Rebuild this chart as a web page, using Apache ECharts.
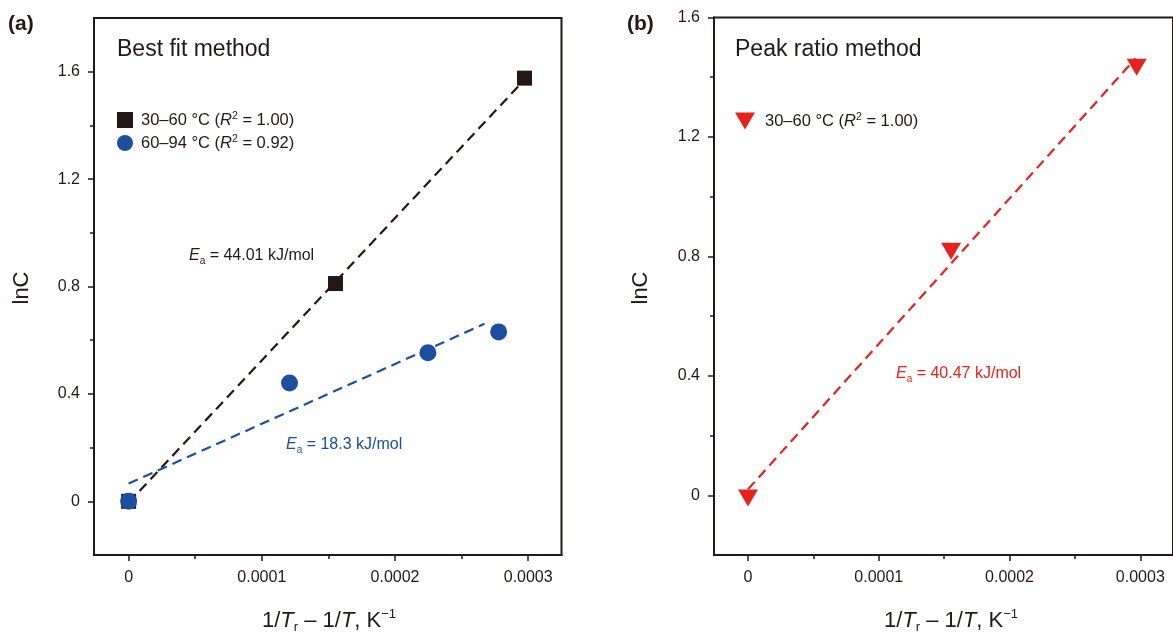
<!DOCTYPE html>
<html>
<head>
<meta charset="utf-8">
<script src="https://cdn.jsdelivr.net/npm/echarts@6/dist/echarts.min.js"></script>
<style>
html,body{margin:0;padding:0;background:#fff;}
#chart{width:1173px;height:633px;}
</style>
</head>
<body>
<div id="chart"></div>
<script>
// ---- tick values ----
const xTicks = [0, 0.0001, 0.0002, 0.0003];
const xMinorTicks = [0.00005, 0.00015, 0.00025];
const yTicks = [0, 0.4, 0.8, 1.2, 1.6];
const yMinorTicks = [0.2, 0.6, 1.0, 1.4];

// ---- (a) Best fit method ----
const xBest30to60 = [0, 0.0001553, 0.0002972];
const lnCBest30to60 = [0, 0.811, 1.576];
const xBest60to94 = [0, 0.0001208, 0.0002247, 0.0002778];
const lnCBest60to94 = [0, 0.441, 0.553, 0.631];
const fitBest30to60X = [0, 0.0002972];
const fitBest30to60Y = [-0.005, 1.570];
const fitBest60to94X = [0, 0.0002672];
const fitBest60to94Y = [0.066, 0.661];

// ---- (b) Peak ratio method ----
const xPeak30to60 = [0, 0.0001553, 0.0002972];
const lnCPeak30to60 = [0, 0.827, 1.443];
const fitPeak30to60X = [0, 0.0002964];
const fitPeak30to60Y = [0.02, 1.463];

const zip = (xs, ys) => xs.map((x, i) => [x, ys[i]]);

const INK = '#231815';
const BLUE = '#1c4fa0';
const RED = '#e5221e';
const FONT = '"Liberation Sans", Arial, Helvetica, sans-serif';
const triPath = 'path://M0,0 L20,0 L10,17 Z';

const xFmt = v => (v === 0 ? '0' : v.toFixed(4));
const yFmt = v => (v === 0 ? '0' : v.toFixed(1));

function mainX(grid) {
  return {
    gridIndex: grid, type: 'value', position: 'bottom', min: -0.000026, max: 0.000325,
    axisLine: { show: true, onZero: false, lineStyle: { color: INK, width: 2 } },
    axisTick: { show: true, customValues: xTicks, length: 6, lineStyle: { color: INK, width: 1.5 } },
    axisLabel: { customValues: xTicks, formatter: xFmt, fontSize: 16, color: INK, fontFamily: FONT, margin: 15 },
    splitLine: { show: false }
  };
}
function minorX(grid) {
  return {
    gridIndex: grid, type: 'value', position: 'bottom', min: -0.000026, max: 0.000325,
    axisLine: { show: false, onZero: false, lineStyle: { color: INK } },
    axisTick: { show: true, customValues: xMinorTicks, length: 4, lineStyle: { color: INK, width: 1.5 } },
    axisLabel: { show: false },
    splitLine: { show: false }
  };
}
function mainY(grid, max) {
  return {
    gridIndex: grid, type: 'value', position: 'left', min: -0.2, max: max,
    axisLine: { show: true, onZero: false, lineStyle: { color: INK, width: 2 } },
    axisTick: { show: true, customValues: yTicks, length: 6, lineStyle: { color: INK, width: 1.5 } },
    axisLabel: { customValues: yTicks, formatter: yFmt, fontSize: 16, color: INK, fontFamily: FONT, margin: 14 },
    splitLine: { show: false }
  };
}
function minorY(grid, max) {
  return {
    gridIndex: grid, type: 'value', position: 'left', min: -0.2, max: max,
    axisLine: { show: false, onZero: false, lineStyle: { color: INK } },
    axisTick: { show: true, customValues: yMinorTicks, length: 4, lineStyle: { color: INK, width: 1.5 } },
    axisLabel: { show: false },
    splitLine: { show: false }
  };
}

const legendNames = {
  a30: '30–60 °C ({i|R}{sup|2} = 1.00)',
  a60: '60–94 °C ({i|R}{sup|2} = 0.92)',
  b30: '30–60 °C ({i|R}{sup|2} = 1.00)'
};
const legendRich = {
  i: { fontStyle: 'italic', fontSize: 16.5, fontFamily: FONT, color: INK, lineHeight: 18 },
  sup: { fontSize: 10.5, fontFamily: FONT, color: INK, verticalAlign: 'top', lineHeight: 18 }
};

function eaText(val, color) {
  return {
    text: '{i|E}{sub|a}{t| = ' + val + ' kJ/mol}',
    rich: {
      i: { fontStyle: 'italic', fontSize: 16, fontFamily: FONT, fill: color, lineHeight: 20 },
      sub: { fontSize: 10, fontFamily: FONT, fill: color, verticalAlign: 'bottom', lineHeight: 20 },
      t: { fontSize: 16, fontFamily: FONT, fill: color, lineHeight: 20 }
    }
  };
}
const xTitleRich = {
  t: { fontSize: 22, fontFamily: FONT, fill: INK, lineHeight: 26 },
  i: { fontSize: 22, fontStyle: 'italic', fontFamily: FONT, fill: INK, lineHeight: 26 },
  sub: { fontSize: 13, fontFamily: FONT, fill: INK, verticalAlign: 'bottom', lineHeight: 26 },
  sup: { fontSize: 13, fontFamily: FONT, fill: INK, verticalAlign: 'top', lineHeight: 26 }
};
const xTitle = '{t|1/}{i|T}{sub|r}{t| – 1/}{i|T}{t|, K}{sup|−1}';

function txt(x, y, text, font, color, align, extra) {
  return Object.assign({
    type: 'text', x: x, y: y, silent: true,
    style: { text: text, font: font, fill: color, textAlign: align || 'left', textVerticalAlign: 'middle' }
  }, extra || {});
}

const option = {
  animation: false,
  backgroundColor: '#fff',
  textStyle: { fontFamily: FONT },
  grid: [
    { left: 94, top: 18, width: 467.5, height: 537, show: true, borderColor: INK, borderWidth: 2, backgroundColor: 'transparent', containLabel: false },
    { left: 714, top: 17.5, width: 467, height: 537.5, show: true, borderColor: INK, borderWidth: 2, backgroundColor: 'transparent', containLabel: false }
  ],
  xAxis: [mainX(0), minorX(0), mainX(1), minorX(1)],
  yAxis: [mainY(0, 1.8), minorY(0, 1.8), mainY(1, 1.6), minorY(1, 1.6)],
  legend: [
    {
      orient: 'vertical', left: 117, top: 111, padding: 0, itemWidth: 16, itemHeight: 16, itemGap: 5,
      data: ['a30', 'a60'],
      formatter: n => legendNames[n],
      selectedMode: false,
      itemStyle: { opacity: 1 },
      textStyle: { fontSize: 16.5, color: INK, fontFamily: FONT, rich: legendRich, padding: [0, 0, 0, 3], lineHeight: 18 }
    },
    {
      orient: 'vertical', left: 735, top: 112, padding: 0, itemWidth: 20, itemHeight: 17,
      data: [{ name: 'b30', icon: triPath }],
      formatter: n => legendNames[n],
      selectedMode: false,
      itemStyle: { opacity: 1 },
      textStyle: { fontSize: 16.5, color: INK, fontFamily: FONT, rich: legendRich, padding: [0, 0, 0, 5], lineHeight: 18 }
    }
  ],
  series: [
    {
      name: 'fitA30', type: 'line', xAxisIndex: 0, yAxisIndex: 0, symbol: 'none', silent: true, z: 2,
      data: zip(fitBest30to60X, fitBest30to60Y),
      lineStyle: { color: INK, width: 2.2, type: [10, 6] }
    },
    {
      name: 'fitA60', type: 'line', xAxisIndex: 0, yAxisIndex: 0, symbol: 'none', silent: true, z: 2,
      data: zip(fitBest60to94X, fitBest60to94Y),
      lineStyle: { color: BLUE, width: 2.2, type: [10, 6] }
    },
    {
      name: 'a30', type: 'scatter', xAxisIndex: 0, yAxisIndex: 0, z: 3,
      symbol: 'rect', symbolSize: 15,
      itemStyle: { color: INK, opacity: 1 },
      data: zip(xBest30to60, lnCBest30to60)
    },
    {
      name: 'a60', type: 'scatter', xAxisIndex: 0, yAxisIndex: 0, z: 4,
      symbol: 'circle', symbolSize: 17,
      itemStyle: { color: BLUE, opacity: 1 },
      data: zip(xBest60to94, lnCBest60to94)
    },
    {
      name: 'fitB30', type: 'line', xAxisIndex: 2, yAxisIndex: 2, symbol: 'none', silent: true, z: 2,
      data: zip(fitPeak30to60X, fitPeak30to60Y),
      lineStyle: { color: RED, width: 2.2, type: [10, 6] }
    },
    {
      name: 'b30', type: 'scatter', xAxisIndex: 2, yAxisIndex: 2, z: 3,
      symbol: triPath, symbolSize: [20, 17], symbolOffset: [0, 2.8],
      itemStyle: { color: RED, opacity: 1 },
      data: zip(xPeak30to60, lnCPeak30to60)
    }
  ],
  graphic: [
    txt(8, 24, '(a)', 'bold 21px ' + FONT, INK),
    txt(627, 24, '(b)', 'bold 21px ' + FONT, INK),
    txt(117, 50, 'Best fit method', '23px ' + FONT, INK),
    txt(735, 50, 'Peak ratio method', '23px ' + FONT, INK),
    { type: 'text', x: 189, y: 256, silent: true, style: Object.assign(eaText('44.01', INK), { textAlign: 'left', textVerticalAlign: 'middle' }) },
    { type: 'text', x: 286, y: 445, silent: true, style: Object.assign(eaText('18.3', BLUE), { textAlign: 'left', textVerticalAlign: 'middle' }) },
    { type: 'text', x: 896, y: 374, silent: true, style: Object.assign(eaText('40.47', RED), { textAlign: 'left', textVerticalAlign: 'middle' }) },
    txt(21.5, 288, 'lnC', '22px ' + FONT, INK, 'center', { rotation: Math.PI / 2 }),
    txt(641, 288, 'lnC', '22px ' + FONT, INK, 'center', { rotation: Math.PI / 2 }),
    { type: 'text', x: 329, y: 621, silent: true, style: { text: xTitle, rich: xTitleRich, textAlign: 'center', textVerticalAlign: 'middle' } },
    { type: 'text', x: 951, y: 621, silent: true, style: { text: xTitle, rich: xTitleRich, textAlign: 'center', textVerticalAlign: 'middle' } }
  ]
};

const chart = echarts.init(document.getElementById('chart'), null, { renderer: 'canvas' });
chart.setOption(option);
</script>
</body>
</html>
